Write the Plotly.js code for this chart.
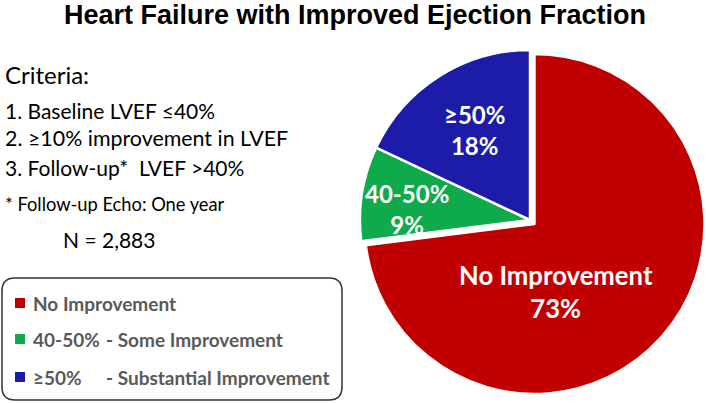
<!DOCTYPE html>
<html>
<head>
<meta charset="utf-8">
<script src="https://cdn.plot.ly/plotly-3.0.1.min.js"></script>
<style>html,body{margin:0;padding:0;background:#fff;}#chart{width:706px;height:403px;}</style>
</head>
<body>
<div id="chart"></div>
<script>
// ---- data ----
var categories = ['No Improvement', '40-50%', '≥50%'];
var percents = [73, 9, 18];
var legendDescriptions = ['', '- Some Improvement', '- Substantial Improvement'];
var criteriaLines = ['1. Baseline LVEF ≤40%', '2. ≥10% improvement in LVEF', '3. Follow-up*  LVEF >40%'];
var footnote = '* Follow-up Echo: One year';
var sampleSize = 'N = 2,883';
var colors = ['#C00000', '#0FAA4B', '#1C1CA8'];

var W = 706, H = 403;
function px(x) { return x / W; }
function py(y) { return 1 - y / H; }

var CAL = 'Lato, "Open Sans", sans-serif';

var trace = {
  type: 'pie',
  values: percents,
  labels: categories,
  sort: false,
  direction: 'clockwise',
  rotation: 0,
  pull: [0.035, 0, 0],
  marker: { colors: colors, line: { color: '#ffffff', width: 2.5 } },
  textinfo: 'none',
  hoverinfo: 'label+percent',
  showlegend: false,
  domain: { x: [px(354), px(706)], y: [py(396), py(44)] }
};

var ann = [];
// Criteria text
ann.push({ text: 'Criteria:', x: px(3), y: py(75), xref: 'paper', yref: 'paper', xanchor: 'left', yanchor: 'middle', showarrow: false, font: { family: CAL, size: 24, color: '#000' } });
var critY = [110, 138, 167];
var critSize = [21, 21.4, 21];
criteriaLines.forEach(function (t, i) {
  ann.push({ text: t, x: px(3), y: py(critY[i]), xref: 'paper', yref: 'paper', xanchor: 'left', yanchor: 'middle', showarrow: false, font: { family: CAL, size: critSize[i], color: '#000' } });
});
ann.push({ text: footnote, x: px(3), y: py(204), xref: 'paper', yref: 'paper', xanchor: 'left', yanchor: 'middle', showarrow: false, font: { family: CAL, size: 18.3, color: '#000' } });
ann.push({ text: sampleSize, x: px(109), y: py(240), xref: 'paper', yref: 'paper', xanchor: 'center', yanchor: 'middle', showarrow: false, font: { family: CAL, size: 21, color: '#000' } });

// Pie labels
var labelPos = [[556, 291], [407, 209], [474, 130]];
var labelSize = [25.7, 24, 24];
categories.forEach(function (c, i) {
  ann.push({ text: '<b>' + c + '<br>' + percents[i] + '%</b>', x: px(labelPos[i][0]), y: py(labelPos[i][1]), xref: 'paper', yref: 'paper', xanchor: 'center', yanchor: 'middle', showarrow: false, align: 'center', font: { family: CAL, size: labelSize[i], color: '#ffffff' } });
});

// Legend box
var shapes = [];
var bx0 = 2, by0 = 278, bx1 = 342, by1 = 400, rr = 13;
function P(x, y) { return px(x) + ',' + py(y); }
var path = 'M' + P(bx0 + rr, by0) + ' L' + P(bx1 - rr, by0) + ' Q' + P(bx1, by0) + ' ' + P(bx1, by0 + rr) +
  ' L' + P(bx1, by1 - rr) + ' Q' + P(bx1, by1) + ' ' + P(bx1 - rr, by1) +
  ' L' + P(bx0 + rr, by1) + ' Q' + P(bx0, by1) + ' ' + P(bx0, by1 - rr) +
  ' L' + P(bx0, by0 + rr) + ' Q' + P(bx0, by0) + ' ' + P(bx0 + rr, by0) + ' Z';
shapes.push({ type: 'path', xref: 'paper', yref: 'paper', path: path, line: { color: '#333333', width: 1.5 }, fillcolor: 'rgba(0,0,0,0)' });

var legY = [303, 339, 377];
categories.forEach(function (c, i) {
  var yc = legY[i];
  shapes.push({ type: 'rect', xref: 'paper', yref: 'paper', x0: px(15), x1: px(25), y0: py(yc + 5), y1: py(yc - 5), fillcolor: colors[i], line: { width: 0 } });
  ann.push({ text: '<b>' + c + '</b>', x: px(31), y: py(yc), xref: 'paper', yref: 'paper', xanchor: 'left', yanchor: 'middle', showarrow: false, font: { family: CAL, size: 19, color: '#595959' } });
  if (legendDescriptions[i]) {
    ann.push({ text: '<b>' + legendDescriptions[i] + '</b>', x: px(104), y: py(yc), xref: 'paper', yref: 'paper', xanchor: 'left', yanchor: 'middle', showarrow: false, font: { family: CAL, size: 19, color: '#595959' } });
  }
});

var layout = {
  width: W, height: H,
  margin: { l: 0, r: 0, t: 0, b: 0 },
  paper_bgcolor: '#ffffff',
  title: { text: '<b>Heart Failure with Improved Ejection Fraction</b>', x: px(355), xanchor: 'center', xref: 'paper', y: py(15), yref: 'container', yanchor: 'middle', font: { family: 'Liberation Sans, Arial, sans-serif', size: 27, color: '#000' } },
  annotations: ann,
  shapes: shapes,
  showlegend: false
};

Plotly.newPlot('chart', [trace], layout, { staticPlot: true, displayModeBar: false });
</script>
</body>
</html>
